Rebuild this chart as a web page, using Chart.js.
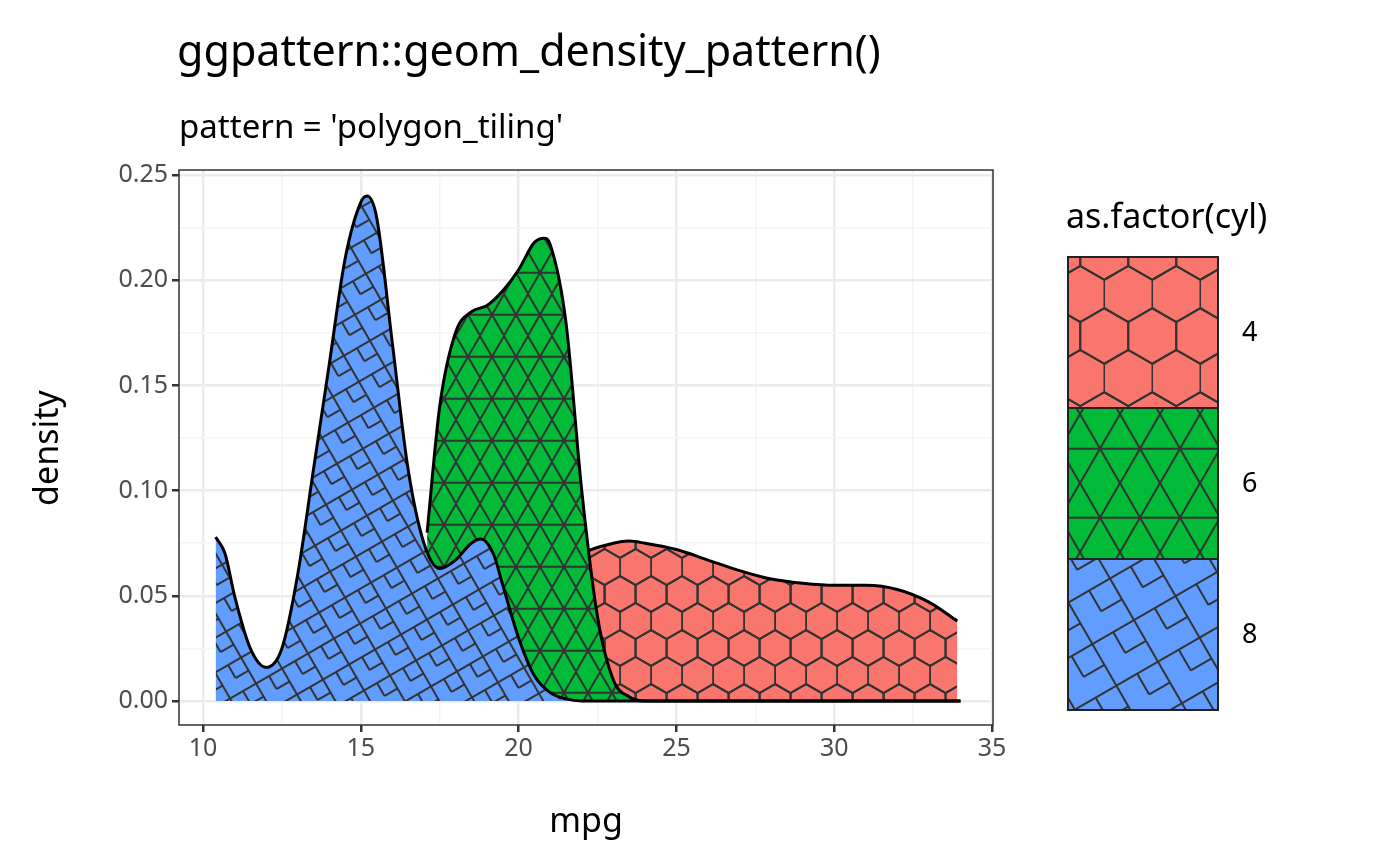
<!DOCTYPE html>
<html><head><meta charset="utf-8">
<script src="https://cdn.jsdelivr.net/npm/chart.js@4"></script>
<style>body{margin:0;background:#fff}#wrap{width:1400px;height:866px}</style>
</head><body><div id="wrap"><canvas id="c"></canvas></div>
<script>
const groups = ['4', '6', '8'];
const colors = ['#F8766D', '#00BA38', '#619CFF'];
const x4 = [21.4, 22, 23, 23.5, 24, 25, 26, 27, 28, 29, 30, 31, 32, 33, 33.9];
const y4 = [0.063, 0.07, 0.075, 0.076, 0.075, 0.072, 0.067, 0.062, 0.058, 0.056, 0.055, 0.055, 0.053, 0.047, 0.038];
const x6 = [17.1, 17.5, 18, 18.5, 19, 19.5, 20, 20.5, 20.8, 21, 21.5, 22, 22.5, 23, 23.5, 24, 34];
const y6 = [0.08, 0.14, 0.175, 0.185, 0.188, 0.195, 0.205, 0.218, 0.22, 0.217, 0.18, 0.1, 0.04, 0.01, 0.002, 0, 0];
const x8 = [10.4, 10.7, 11, 11.5, 12, 12.5, 13, 13.5, 14, 14.5, 15, 15.2, 15.5, 16, 16.5, 17, 17.5, 18, 18.5, 18.8, 19.2, 19.5, 20, 20.5, 21, 21.5, 22, 34];
const y8 = [0.078, 0.07, 0.05, 0.025, 0.016, 0.025, 0.06, 0.11, 0.16, 0.21, 0.237, 0.24, 0.23, 0.17, 0.11, 0.075, 0.063, 0.067, 0.075, 0.077, 0.07, 0.055, 0.03, 0.012, 0.004, 0.001, 0, 0];
const xTicks = [10, 15, 20, 25, 30, 35];

function hexPattern(color, r) {
  const w = Math.sqrt(3) * r, h = 3 * r;
  const c = document.createElement('canvas');
  c.width = Math.round(w); c.height = Math.round(h);
  const g = c.getContext('2d');
  g.fillStyle = color; g.fillRect(0, 0, c.width, c.height);
  g.strokeStyle = '#333'; g.lineWidth = 2;
  function hex(cx, cy) {
    g.beginPath();
    for (let i = 0; i < 6; i++) {
      const a = Math.PI / 3 * i + Math.PI / 6;
      const px = cx + r * Math.cos(a), py = cy + r * Math.sin(a);
      i ? g.lineTo(px, py) : g.moveTo(px, py);
    }
    g.closePath(); g.stroke();
  }
  hex(0, 0); hex(w, 0); hex(w / 2, 1.5 * r); hex(0, 3 * r); hex(w, 3 * r);
  return g.createPattern(c, 'repeat');
}
function triPattern(color, s) {
  const h = s * Math.sqrt(3);
  const c = document.createElement('canvas');
  c.width = Math.round(s); c.height = Math.round(h);
  const g = c.getContext('2d');
  g.fillStyle = color; g.fillRect(0, 0, c.width, c.height);
  g.strokeStyle = '#333'; g.lineWidth = 2;
  g.beginPath();
  g.moveTo(0, 0); g.lineTo(s, h);
  g.moveTo(s, 0); g.lineTo(0, h);
  g.moveTo(0, h / 2); g.lineTo(s, h / 2);
  g.stroke();
  return g.createPattern(c, 'repeat');
}
function squarePattern(color, s, ang) {
  const c = document.createElement('canvas');
  c.width = s; c.height = s;
  const g = c.getContext('2d');
  g.fillStyle = color; g.fillRect(0, 0, s, s);
  g.strokeStyle = '#333'; g.lineWidth = 2;
  g.strokeRect(0, 0, s, s);
  g.beginPath(); g.moveTo(s / 2, 0); g.lineTo(s / 2, s / 2); g.moveTo(s / 2, s / 2); g.lineTo(s, s / 2); g.stroke();
  const p = g.createPattern(c, 'repeat');
  p.setTransform(new DOMMatrix().rotate(ang));
  return p;
}
const pats = [hexPattern(colors[0], 18), triPattern(colors[1], 24), squarePattern(colors[2], 30, -30)];
const legPats = [hexPattern(colors[0], 28), triPattern(colors[1], 40), squarePattern(colors[2], 48, -30)];

function ds(xs, ys, i) {
  return {
    label: groups[i], data: xs.map((x, k) => ({ x: x, y: ys[k] })),
    backgroundColor: pats[i], borderColor: '#000', borderWidth: 3,
    fill: 'origin', pointRadius: 0, cubicInterpolationMode: 'monotone'
  };
}

const deco = {
  id: 'deco',
  afterDraw(ch) {
    const g = ch.ctx; const a = ch.chartArea;
    g.save();
    g.strokeStyle = '#333'; g.lineWidth = 1.5;
    g.strokeRect(a.left, a.top, a.right - a.left, a.bottom - a.top);
    g.fillStyle = '#000'; g.textBaseline = 'alphabetic';
    g.font = '43px "Noto Sans"'; g.fillText('ggpattern::geom_density_pattern()', 177, 66);
    g.font = '33px "Noto Sans"'; g.fillText("pattern = 'polygon_tiling'", 179, 138);
    g.font = '34px "Noto Sans"'; g.fillText('as.factor(cyl)', 1066, 228);
    g.textAlign = 'center';
    g.fillText('mpg', 586, 832);
    g.save(); g.translate(58, 448); g.rotate(-Math.PI / 2); g.fillText('density', 0, 0); g.restore();
    g.textAlign = 'left';
    g.font = '27px "Noto Sans"'; g.textBaseline = 'middle';
    for (let i = 0; i < 3; i++) {
      const y = 257 + i * 151;
      g.fillStyle = legPats[i]; g.fillRect(1068, y, 150, 151);
      g.strokeStyle = '#222'; g.lineWidth = 2; g.strokeRect(1068, y, 150, 151);
      g.fillStyle = '#000'; g.fillText(groups[i], 1242, y + 76);
    }
    g.restore();
  }
};

new Chart(document.getElementById('c'), {
  type: 'line',
  data: { datasets: [ds(x8, y8, 2), ds(x6, y6, 1), ds(x4, y4, 0)] },
  options: {
    responsive: true, maintainAspectRatio: false, animation: false, devicePixelRatio: 1,
    layout: { padding: { top: 170, right: 407, left: 0, bottom: 0 } },
    plugins: { legend: { display: false }, tooltip: { enabled: false } },
    scales: {
      x: {
        type: 'linear', min: 9.24, max: 35.03,
        afterBuildTicks: s => { s.ticks = []; for (let v = 10; v <= 35; v += 2.5) s.ticks.push({ value: v }); },
        afterFit: s => { s.height = 141; },
        grid: {
          color: c => (c.tick && c.tick.value % 5 === 0) ? '#ebebeb' : '#f5f5f5', lineWidth: c => (c.tick && c.tick.value % 5 === 0) ? 2.5 : 1.5,
          tickColor: c => (c.tick && c.tick.value % 5 === 0) ? '#333' : 'rgba(0,0,0,0)', tickLength: 7, drawTicks: true
        },
        border: { display: false },
        ticks: { color: '#4d4d4d', font: { size: 25, family: 'Noto Sans' }, maxRotation: 0, padding: 2, callback: v => xTicks.includes(v) ? String(v) : '' }
      },
      y: {
        min: -0.0114, max: 0.2524,
        afterBuildTicks: s => { s.ticks = []; for (let k = 0; k <= 10; k++) s.ticks.push({ value: k * 0.025 }); },
        afterFit: s => { s.width = 179; },
        grid: {
          color: c => (c.tick && Math.round(c.tick.value * 1000) % 50 === 0) ? '#ebebeb' : '#f5f5f5', lineWidth: c => (c.tick && Math.round(c.tick.value * 1000) % 50 === 0) ? 2.5 : 1.5,
          tickColor: c => (c.tick && Math.round(c.tick.value * 1000) % 50 === 0) ? '#333' : 'rgba(0,0,0,0)', tickLength: 7
        },
        border: { display: false },
        ticks: { color: '#4d4d4d', font: { size: 25, family: 'Noto Sans' }, padding: 4, callback: v => Math.round(v * 1000) % 50 === 0 ? v.toFixed(2) : '' }
      }
    }
  },
  plugins: [deco]
});
</script></body></html>
